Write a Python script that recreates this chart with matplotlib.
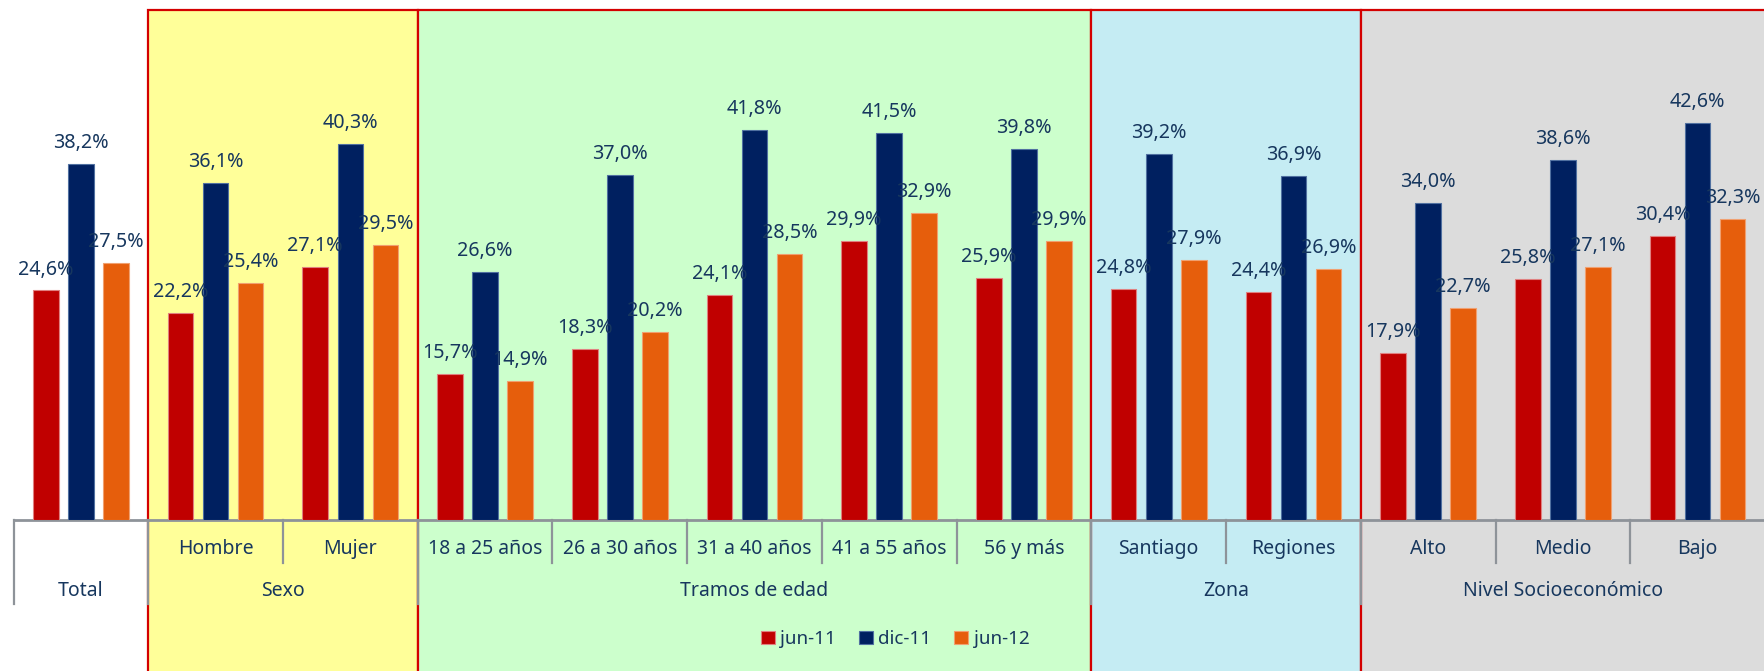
import matplotlib
matplotlib.use("Agg")
import matplotlib.pyplot as plt
import matplotlib.transforms as mtrans
from matplotlib.patches import Rectangle
from matplotlib.lines import Line2D
import numpy as np

categories = ["Total", "Hombre", "Mujer", "18 a 25 años", "26 a 30 años", "31 a 40 años",
              "41 a 55 años", "56 y más", "Santiago", "Regiones", "Alto", "Medio", "Bajo"]
group_names = ["Total", "Sexo", "Tramos de edad", "Zona", "Nivel Socioeconómico"]
group_sizes = [1, 2, 5, 2, 3]
series_names = ["jun-11", "dic-11", "jun-12"]
jun11 = [24.6, 22.2, 27.1, 15.7, 18.3, 24.1, 29.9, 25.9, 24.8, 24.4, 17.9, 25.8, 30.4]
dic11 = [38.2, 36.1, 40.3, 26.6, 37.0, 41.8, 41.5, 39.8, 39.2, 36.9, 34.0, 38.6, 42.6]
jun12 = [27.5, 25.4, 29.5, 14.9, 20.2, 28.5, 32.9, 29.9, 27.9, 26.9, 22.7, 27.1, 32.3]

colors = ["#C00000", "#002060", "#E65E0C"]
edge_colors = ["#E08080", "#5070A0", "#F0A070"]
group_bg = [None, "#FFFF99", "#CCFFCC", "#C5ECF3", "#DCDCDC"]
text_color = "#17375E"
sep_color = "#8E9399"
FONT = "Noto Sans"

W, H = 1765, 671
fig = plt.figure(figsize=(W / 100, H / 100), dpi=100)
fig.patch.set_facecolor("white")

base_y = 520
ax = fig.add_axes([13.5 / W, (H - base_y) / H, (W - 13.5) / W, base_y / H])
ax.set_facecolor("none")
ax.set_xlim(-0.5, len(categories) - 0.5)
ax.set_ylim(0, base_y / 9.33)
for s in ["top", "right", "left"]:
    ax.spines[s].set_visible(False)
ax.spines["bottom"].set_color(sep_color)
ax.spines["bottom"].set_linewidth(2)
ax.set_xticks([])
ax.set_yticks([])

x = np.arange(len(categories))
width = 0.19
offsets = [-0.26, 0.0, 0.26]
series = [jun11, dic11, jun12]
for vals, off, c, ec, nm in zip(series, offsets, colors, edge_colors, series_names):
    ax.bar(x + off, vals, width, color=c, edgecolor=ec, linewidth=0.8, label=nm, zorder=3)
    for xi, v in zip(x, vals):
        ax.annotate(f"{v:.1f}%".replace(".", ","), (xi + off, v), xytext=(0, 11.5),
                    textcoords="offset points", ha="center", va="baseline",
                    fontsize=14.2, color=text_color, family=FONT, zorder=5)

bt = mtrans.blended_transform_factory(ax.transData, fig.transFigure)
def fy(py):
    return (H - py) / H

# group backgrounds
starts = np.cumsum([0] + group_sizes[:-1])
for gi, (st, sz) in enumerate(zip(starts, group_sizes)):
    if group_bg[gi] is None:
        continue
    x0 = st - 0.5
    x1 = st + sz - 0.5
    if gi == len(group_sizes) - 1:
        x1 = x1 + 0.3
    r = Rectangle((x0, fy(H + 5)), x1 - x0, fy(10) - fy(H + 5), transform=bt,
                  facecolor=group_bg[gi], edgecolor="#D40000", linewidth=1.6, zorder=-2)
    fig.patches.append(r)
    r.set_figure(fig)

# category separators and labels
upper_bottom, lower_bottom = 563, 604
for gi, (st, sz) in enumerate(zip(starts, group_sizes)):
    if sz > 1:
        for k in range(sz):
            ci = st + k
            ax.text(ci, fy(549), categories[ci], transform=bt, ha="center", va="center",
                    fontsize=14, color=text_color, family=FONT)
        for k in range(1, sz):
            ax.add_line(Line2D([st + k - 0.5] * 2, [fy(base_y), fy(upper_bottom)], transform=bt,
                               color=sep_color, lw=1.6, clip_on=False))
    ax.text(st + (sz - 1) / 2, fy(591), group_names[gi], transform=bt, ha="center", va="center",
            fontsize=14, color=text_color, family=FONT)
for b in starts:
    ax.add_line(Line2D([b - 0.5] * 2, [fy(base_y), fy(lower_bottom)], transform=bt,
                       color=sep_color, lw=1.6, clip_on=False))

leg = fig.legend(loc="center", bbox_to_anchor=(895 / W, fy(639)), ncol=3, frameon=False,
                 prop={"family": FONT, "size": 13.5}, handlelength=0.75, handleheight=0.75,
                 handletextpad=0.3, columnspacing=1.2, borderpad=0)
for t in leg.get_texts():
    t.set_color(text_color)

fig.savefig("out.png", dpi=100)
